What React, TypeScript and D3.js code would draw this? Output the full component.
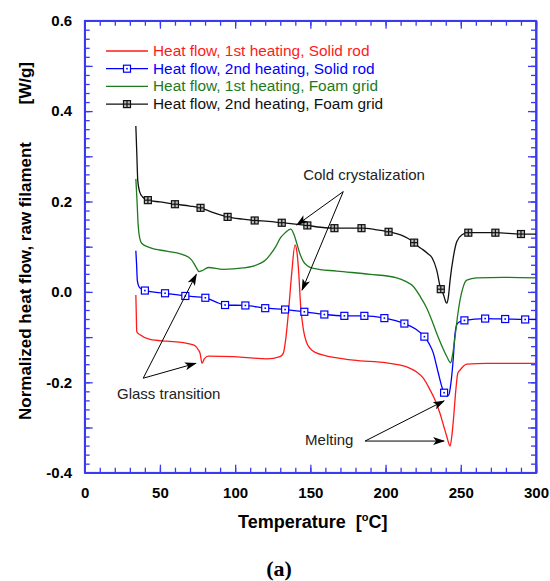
import React from 'react';
import * as d3 from 'd3';

// series: temperature [°C] and normalized heat flow [W/g]
const redT = [34, 34.3, 34.6, 36.8, 43.4, 54.5, 65.6, 71, 73.3, 75.5, 76.7, 78, 79.5, 82.2, 98.8, 110, 121, 129.9, 132, 133.8, 135.4, 137.6, 139.8, 141, 142, 143.6, 145.4, 147.5, 149.8, 154, 158.7, 178.6, 200.8, 210, 216.3, 220.7, 225.1, 229.6, 233, 236.2, 238.5, 240.7, 242.9, 244, 245.1, 246.9, 248, 249.5, 251.5, 254, 267.3, 300];
const redV = [-0.007, -0.05, -0.088, -0.095, -0.105, -0.109, -0.112, -0.116, -0.119, -0.128, -0.136, -0.158, -0.148, -0.142, -0.143, -0.146, -0.148, -0.143, -0.136, -0.1, -0.047, 0.041, 0.104, 0.09, 0.056, -0.033, -0.084, -0.112, -0.125, -0.135, -0.14, -0.151, -0.157, -0.162, -0.169, -0.177, -0.191, -0.217, -0.24, -0.269, -0.295, -0.32, -0.341, -0.32, -0.283, -0.21, -0.18, -0.173, -0.165, -0.16, -0.158, -0.158];

const blueT = [34, 34.5, 35, 36, 38, 40, 53.4, 66.9, 80.2, 87, 93.3, 106.8, 120, 133.2, 146, 159.3, 172.6, 185.9, 199.2, 212.5, 220, 225.8, 229, 231.8, 234, 235.1, 237, 238.9, 240.7, 242, 243.5, 244.7, 246.2, 247.7, 250, 252.4, 266.2, 279.5, 292.8, 300];
const blueV = [0.091, 0.06, 0.025, 0.012, 0.006, 0.003, -0.003, -0.009, -0.013, -0.022, -0.029, -0.03, -0.036, -0.039, -0.044, -0.05, -0.053, -0.053, -0.058, -0.07, -0.082, -0.099, -0.115, -0.136, -0.165, -0.18, -0.205, -0.223, -0.23, -0.228, -0.2, -0.16, -0.092, -0.07, -0.065, -0.063, -0.059, -0.06, -0.061, -0.061];
const blueMarkT = [40, 53.4, 66.9, 80.2, 93.3, 106.8, 120, 133.2, 146, 159.3, 172.6, 185.9, 199.2, 212.5, 225.8, 238.9, 252.4, 266.2, 279.5, 292.8];
const blueMarkV = [0.003, -0.003, -0.009, -0.013, -0.029, -0.03, -0.036, -0.039, -0.044, -0.05, -0.053, -0.053, -0.058, -0.07, -0.099, -0.223, -0.063, -0.059, -0.06, -0.061];

const greenT = [34, 34.8, 35.5, 36.5, 38, 43.4, 54.5, 65.6, 71, 74, 76, 78, 82.2, 92, 105.5, 112, 116.6, 120, 123.2, 127, 130, 133, 137, 139, 141, 143, 145.4, 148, 152, 167.6, 189.7, 207.4, 213, 218.5, 223, 227.4, 231, 234, 237.5, 240.7, 243.3, 244.5, 246.2, 248, 249.5, 251.5, 254, 260.6, 278.3, 300];
const greenV = [0.25, 0.2, 0.15, 0.12, 0.107, 0.098, 0.09, 0.082, 0.071, 0.055, 0.045, 0.047, 0.054, 0.05, 0.053, 0.057, 0.063, 0.07, 0.082, 0.1, 0.119, 0.13, 0.139, 0.128, 0.107, 0.085, 0.067, 0.058, 0.052, 0.046, 0.039, 0.031, 0.024, 0.012, -0.01, -0.036, -0.065, -0.092, -0.12, -0.143, -0.157, -0.14, -0.099, -0.05, -0.018, 0.01, 0.026, 0.031, 0.032, 0.031];

const blackT = [34, 34.6, 35.3, 36.5, 38.5, 42, 50, 60, 70, 77, 85, 95, 105, 113, 122, 131, 140, 148, 157, 166, 175, 184, 193, 202, 210, 215, 219, 222, 225, 228, 231, 234, 236.7, 238.4, 240, 240.7, 241.8, 242.9, 245.1, 247.3, 250.6, 255, 260, 273, 290, 300];
const blackV = [0.367, 0.31, 0.245, 0.222, 0.21, 0.203, 0.199, 0.194, 0.19, 0.186, 0.176, 0.166, 0.161, 0.158, 0.156, 0.153, 0.15, 0.147, 0.143, 0.141, 0.141, 0.141, 0.138, 0.133, 0.126, 0.118, 0.109, 0.1, 0.093, 0.085, 0.075, 0.048, 0.006, -0.005, -0.022, -0.025, -0.01, 0.026, 0.078, 0.111, 0.126, 0.131, 0.131, 0.131, 0.128, 0.128];
const blackMarkT = [42, 60, 77, 95, 113, 131, 148, 166, 184, 202, 219, 236.7, 255, 273, 290];
const blackMarkV = [0.203, 0.194, 0.186, 0.166, 0.158, 0.153, 0.147, 0.141, 0.141, 0.133, 0.109, 0.006, 0.131, 0.131, 0.128];

const legendLabels = [
  'Heat flow, 1st heating, Solid rod',
  'Heat flow, 2nd heating, Solid rod',
  'Heat flow, 1st heating, Foam grid',
  'Heat flow, 2nd heating, Foam grid',
];
const xTicks = [0, 50, 100, 150, 200, 250, 300];
const yTicks = [-0.4, -0.2, 0.0, 0.2, 0.4, 0.6];

const AXIS = '#3a3af0';
const RED = '#ff1a1a';
const BLUE = '#0000ff';
const GREEN = '#1e7a1e';
const BLACK = '#111111';

const x = d3.scaleLinear().domain([0, 300]).range([84.7, 536]);
const y = d3.scaleLinear().domain([-0.4, 0.6]).range([472.7, 20.7]);

const line = d3
  .line<[number, number]>()
  .x(d => x(d[0]))
  .y(d => y(d[1]))
  .curve(d3.curveMonotoneX);

const zip = (t: number[], v: number[]) => t.map((d, i) => [d, v[i]] as [number, number]);

function BlueMark({ cx, cy }: { cx: number; cy: number }) {
  return (
    <g>
      <rect x={cx - 3.5} y={cy - 3.5} width={7} height={7} fill="white" stroke={BLUE} strokeWidth={1.2} />
      <rect x={cx - 0.8} y={cy - 0.8} width={1.6} height={1.6} fill={BLUE} />
    </g>
  );
}

function BlackMark({ cx, cy }: { cx: number; cy: number }) {
  return (
    <g stroke={BLACK} strokeWidth={1.2}>
      <rect x={cx - 3.5} y={cy - 3.5} width={7} height={7} fill="#bbb" />
      <line x1={cx} x2={cx} y1={cy - 3.5} y2={cy + 3.5} />
      <line x1={cx - 3.5} x2={cx + 3.5} y1={cy} y2={cy} />
    </g>
  );
}

export default function App() {
  const axesRef = React.useRef<SVGGElement>(null);

  React.useEffect(() => {
    const g = d3.select(axesRef.current);
    g.selectAll('*').remove();
    const xMinor = d3.range(0, 31).map(i => i * 10);
    const yMinor = d3.range(-20, 31).map(i => i / 50);
    const yMajor = d3.range(-4, 7).map(i => i / 10);
    const yFmt = (d: number) => (yTicks.some(t => Math.abs(t - d) < 1e-6) ? d.toFixed(1) : '');

    const add = (ax: any, tx: string) => g.append('g').attr('transform', tx).call(ax);

    // minor ticks, all four sides
    add(d3.axisBottom(x).tickValues(xMinor).tickSize(-5).tickSizeOuter(0).tickFormat(() => ''), 'translate(0,472.7)');
    add(d3.axisTop(x).tickValues(xMinor).tickSize(-5).tickSizeOuter(0).tickFormat(() => ''), 'translate(0,20.7)');
    add(d3.axisLeft(y).tickValues(yMinor).tickSize(-5).tickSizeOuter(0).tickFormat(() => ''), 'translate(84.7,0)');
    add(d3.axisRight(y).tickValues(yMinor).tickSize(-5).tickSizeOuter(0).tickFormat(() => ''), 'translate(536,0)');
    // major ticks
    add(d3.axisBottom(x).tickValues(xTicks).tickSize(-8).tickSizeOuter(0).tickPadding(15).tickFormat(d3.format('d')), 'translate(0,472.7)');
    add(d3.axisTop(x).tickValues(xTicks).tickSize(-8).tickSizeOuter(0).tickFormat(() => ''), 'translate(0,20.7)');
    add(d3.axisLeft(y).tickValues(yMajor).tickSize(-8).tickSizeOuter(0).tickPadding(12.5).tickFormat(yFmt as any), 'translate(84.7,0)');
    add(d3.axisRight(y).tickValues(yMajor).tickSize(-8).tickSizeOuter(0).tickFormat(() => ''), 'translate(536,0)');

    g.selectAll('.domain').attr('stroke', AXIS).attr('stroke-width', 1.6);
    g.selectAll('.tick line').attr('stroke', AXIS).attr('stroke-width', 1.3);
    g.selectAll('.tick text')
      .attr('fill', '#000')
      .attr('font-family', 'Arial, "Liberation Sans", sans-serif')
      .attr('font-weight', 'bold')
      .attr('font-size', 15);
  }, []);

  const series = [
    { t: redT, v: redV, color: RED },
    { t: blueT, v: blueV, color: BLUE },
    { t: greenT, v: greenV, color: GREEN },
    { t: blackT, v: blackV, color: BLACK },
  ];

  const font = 'Arial, "Liberation Sans", sans-serif';
  const arrow = (t0: number, v0: number, t1: number, v1: number, key: string) => (
    <line key={key} x1={x(t0)} y1={y(v0)} x2={x(t1)} y2={y(v1)} stroke="#000" strokeWidth={1} markerEnd="url(#arr)" />
  );

  return (
    <svg width={550} height={581} style={{ position: 'absolute', left: 0, top: 0, background: 'white' }}>
      <defs>
        <marker id="arr" viewBox="0 0 12 8" refX={11} refY={4} markerWidth={12} markerHeight={8} markerUnits="userSpaceOnUse" orient="auto">
          <path d="M0,0 L12,4 L0,8 L3,4 Z" fill="#000" />
        </marker>
      </defs>
      <rect x={84.7} y={20.7} width={536 - 84.7} height={472.7 - 20.7} fill="white" stroke={AXIS} strokeWidth={1.6} />
      <g ref={axesRef} />

      {series.map((s, i) => (
        <path key={i} d={line(zip(s.t, s.v)) || ''} fill="none" stroke={s.color} strokeWidth={1.3} />
      ))}
      {blueMarkT.map((t, i) => (
        <BlueMark key={'b' + i} cx={x(t)} cy={y(blueMarkV[i])} />
      ))}
      {blackMarkT.map((t, i) => (
        <BlackMark key={'k' + i} cx={x(t)} cy={y(blackMarkV[i])} />
      ))}

      {/* legend */}
      {legendLabels.map((lab, i) => {
        const ly = 51 + i * 17.7;
        const c = [RED, BLUE, GREEN, BLACK][i];
        return (
          <g key={lab}>
            <line x1={106} x2={148} y1={ly} y2={ly} stroke={c} strokeWidth={1.3} />
            {i === 1 && <BlueMark cx={127} cy={ly} />}
            {i === 3 && <BlackMark cx={127} cy={ly} />}
            <text x={153} y={ly + 5} fill={c} fontFamily={font} fontSize={15.4}>
              {lab}
            </text>
          </g>
        );
      })}

      {/* annotations */}
      <text x={x(185.7)} y={y(0.248)} textAnchor="middle" fontFamily={font} fontSize={15} fill="#222">
        Cold crystalization
      </text>
      {arrow(171.9, 0.222, 141, 0.148, 'c1')}
      {arrow(171.9, 0.222, 144.5, 0.004, 'c2')}
      <text x={x(21.5)} y={y(-0.237)} fontFamily={font} fontSize={15} fill="#222">
        Glass transition
      </text>
      {arrow(38.9, -0.191, 74.2, 0.039, 'g1')}
      {arrow(38.9, -0.191, 73.9, -0.158, 'g2')}
      <text x={x(146.5)} y={y(-0.339)} fontFamily={font} fontSize={15} fill="#222">
        Melting
      </text>
      {arrow(186.4, -0.33, 238.9, -0.241, 'm1')}
      {arrow(186.4, -0.33, 238.9, -0.33, 'm2')}

      {/* axis titles */}
      <text x={238} y={528} fontFamily={font} fontWeight="bold" fontSize={18} fill="#000">
        Temperature{'\u00a0\u00a0'}[<tspan dy={-7} fontSize={11}>o</tspan>
        <tspan dy={7}>C]</tspan>
      </text>
      <text transform="translate(31,420) rotate(-90)" fontFamily={font} fontWeight="bold" fontSize={17} fill="#000">
        Normalized heat flow, raw filament
      </text>
      <text transform="translate(31,62) rotate(-90)" textAnchor="end" fontFamily={font} fontWeight="bold" fontSize={17} fill="#000">
        [W/g]
      </text>
      <text x={279} y={576} textAnchor="middle" fontFamily='"Liberation Serif", "DejaVu Serif", serif' fontWeight="bold" fontSize={22} fill="#000">
        (a)
      </text>
    </svg>
  );
}
